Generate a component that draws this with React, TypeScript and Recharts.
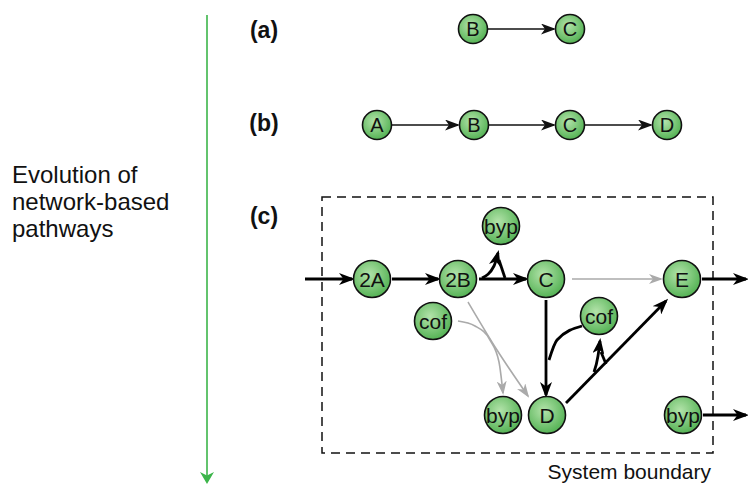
import { ComposedChart, Line, Scatter, XAxis, YAxis, ReferenceArea } from "recharts";

const W = 748;
const H = 485;
const FONT = "'Liberation Sans', Arial, Helvetica, sans-serif";

// chain nodes, panels (a) and (b)
const chainLabels = ["B", "C", "A", "B", "C", "D"];
const chainX = [473, 570, 377, 474, 570, 667];
const chainY = [29, 29, 125, 125, 125, 125];

// network nodes, panel (c)
const netLabels = ["2A", "2B", "C", "E", "byp", "cof", "cof", "byp", "D", "byp"];
const netX = [372, 458, 546, 682, 501, 433, 599, 503, 547, 683];
const netY = [279, 279, 279, 279, 226, 321, 316, 415, 415, 415];

// edges as point lists
const thinEdges = [
  [{ x: 488, y: 29 }, { x: 554, y: 29 }],
  [{ x: 392, y: 125 }, { x: 458, y: 125 }],
  [{ x: 489, y: 125 }, { x: 554, y: 125 }],
  [{ x: 585, y: 125 }, { x: 651, y: 125 }],
];
const boldEdges = [
  [{ x: 305, y: 279 }, { x: 352, y: 279 }],
  [{ x: 392, y: 279 }, { x: 438, y: 279 }],
  [{ x: 479, y: 279 }, { x: 526, y: 279 }],
  [{ x: 482, y: 278 }, { x: 494, y: 266 }, { x: 498, y: 253 }],
  [{ x: 546, y: 300 }, { x: 546, y: 395 }],
  [{ x: 566, y: 403 }, { x: 666, y: 301 }],
  [{ x: 594, y: 372 }, { x: 598, y: 356 }, { x: 600, y: 341 }],
  [{ x: 702, y: 279 }, { x: 746, y: 279 }],
  [{ x: 703, y: 415 }, { x: 746, y: 415 }],
];
const boldPlain = [
  [{ x: 499, y: 260 }, { x: 505, y: 278 }],
  [{ x: 549, y: 360 }, { x: 557, y: 340 }, { x: 582, y: 326 }],
  [{ x: 601, y: 352 }, { x: 606, y: 364 }],
];
const grayEdges = [
  [{ x: 572, y: 279 }, { x: 661, y: 279 }],
  [{ x: 468, y: 302 }, { x: 497, y: 350 }, { x: 528, y: 396 }],
  [{ x: 458, y: 321 }, { x: 475, y: 326 }, { x: 490, y: 340 }, { x: 499, y: 362 }, { x: 503, y: 393 }],
];
const timeArrow = [{ x: 207, y: 15 }, { x: 207, y: 478 }];

// text
const panelText = ["(a)", "(b)", "(c)"];
const panelX = [264, 264, 264];
const panelY = [30, 123, 216];
const captionText = ["Evolution of", "network-based", "pathways"];
const captionX = [12, 12, 12];
const captionY = [183, 210, 237];
const boundaryText = ["System boundary"];
const boundaryX = [711];
const boundaryY = [479];

const zip = (labels: string[], xs: number[], ys: number[]) =>
  labels.map((label, i) => ({ label, x: xs[i], y: ys[i] }));

const chainData = zip(chainLabels, chainX, chainY);
const netData = zip(netLabels, netX, netY);
const panelData = zip(panelText, panelX, panelY);
const captionData = zip(captionText, captionX, captionY);
const boundaryData = zip(boundaryText, boundaryX, boundaryY);

const nodeShape = (r: number, fs: number) => (props: any) => {
  const { cx, cy, payload } = props;
  return (
    <g>
      <circle cx={cx} cy={cy} r={r} fill="url(#nodeFill)" stroke="#111" strokeWidth={1.6} />
      <text
        x={cx}
        y={cy}
        dy="0.36em"
        textAnchor="middle"
        fontFamily={FONT}
        fontSize={fs}
        fill="#111"
      >
        {payload.label}
      </text>
    </g>
  );
};

const textShape = (fs: number, weight: string, anchor: "start" | "middle" | "end", dy: string) =>
  (props: any) => (
    <text
      x={props.cx}
      y={props.cy}
      dy={dy}
      textAnchor={anchor}
      fontFamily={FONT}
      fontSize={fs}
      fontWeight={weight}
      fill="#111"
    >
      {props.payload.label}
    </text>
  );

export default function App() {
  return (
    <div style={{ position: "absolute", left: 0, top: 0, width: W, height: H, background: "#fff" }}>
      <ComposedChart width={W} height={H} margin={{ top: 0, right: 0, bottom: 0, left: 0 }}>
        <defs>
          <radialGradient id="nodeFill" cx="42%" cy="38%" r="62%">
            <stop offset="0%" stopColor="#b3e3aa" />
            <stop offset="100%" stopColor="#56b356" />
          </radialGradient>
          <marker id="arrThin" viewBox="0 0 15 11" refX="13" refY="5.5" markerWidth="15" markerHeight="11" markerUnits="userSpaceOnUse" orient="auto">
            <path d="M0,0 L15,5.5 L0,11 L4,5.5 Z" fill="#111" />
          </marker>
          <marker id="arrBold" viewBox="0 0 16 12" refX="13" refY="6" markerWidth="16" markerHeight="12" markerUnits="userSpaceOnUse" orient="auto">
            <path d="M0,0 L16,6 L0,12 L4.5,6 Z" fill="#000" />
          </marker>
          <marker id="arrGray" viewBox="0 0 14 10" refX="12" refY="5" markerWidth="14" markerHeight="10" markerUnits="userSpaceOnUse" orient="auto">
            <path d="M0,0 L14,5 L0,10 L4,5 Z" fill="#aaa" />
          </marker>
          <marker id="arrGreen" viewBox="0 0 12 14" refX="6" refY="7" markerWidth="12" markerHeight="14" markerUnits="userSpaceOnUse" orient="auto-start-reverse">
            <path d="M0,0 L12,7 L0,14 L3.5,7 Z" fill="#3cb54a" />
          </marker>
        </defs>
        <XAxis type="number" dataKey="x" domain={[0, W]} hide allowDataOverflow />
        <YAxis type="number" dataKey="y" domain={[0, H]} reversed hide allowDataOverflow />

        <ReferenceArea x1={322} x2={713} y1={197} y2={453} fill="none" fillOpacity={0} stroke="#111" strokeWidth={1.5} strokeDasharray="9 6" />

        <Line data={timeArrow} dataKey="y" type="linear" stroke="#3cb54a" strokeWidth={1.6} dot={false} isAnimationActive={false} markerEnd="url(#arrGreen)" />

        {thinEdges.map((d, i) => (
          <Line key={"t" + i} data={d} dataKey="y" type="linear" stroke="#111" strokeWidth={1.5} dot={false} isAnimationActive={false} markerEnd="url(#arrThin)" />
        ))}
        {grayEdges.map((d, i) => (
          <Line key={"g" + i} data={d} dataKey="y" type="monotone" stroke="#aaa" strokeWidth={1.6} dot={false} isAnimationActive={false} markerEnd="url(#arrGray)" />
        ))}
        {boldEdges.map((d, i) => (
          <Line key={"b" + i} data={d} dataKey="y" type="monotone" stroke="#000" strokeWidth={2.8} dot={false} isAnimationActive={false} markerEnd="url(#arrBold)" />
        ))}
        {boldPlain.map((d, i) => (
          <Line key={"p" + i} data={d} dataKey="y" type="monotone" stroke="#000" strokeWidth={2.8} dot={false} isAnimationActive={false} />
        ))}

        <Scatter data={chainData} shape={nodeShape(14.5, 20)} isAnimationActive={false} />
        <Scatter data={netData} shape={nodeShape(18.5, 21)} isAnimationActive={false} />
        <Scatter data={panelData} shape={textShape(23, "bold", "middle", "0.36em")} isAnimationActive={false} />
        <Scatter data={captionData} shape={textShape(24, "normal", "start", "0")} isAnimationActive={false} />
        <Scatter data={boundaryData} shape={textShape(21, "normal", "end", "0")} isAnimationActive={false} />
      </ComposedChart>
    </div>
  );
}
